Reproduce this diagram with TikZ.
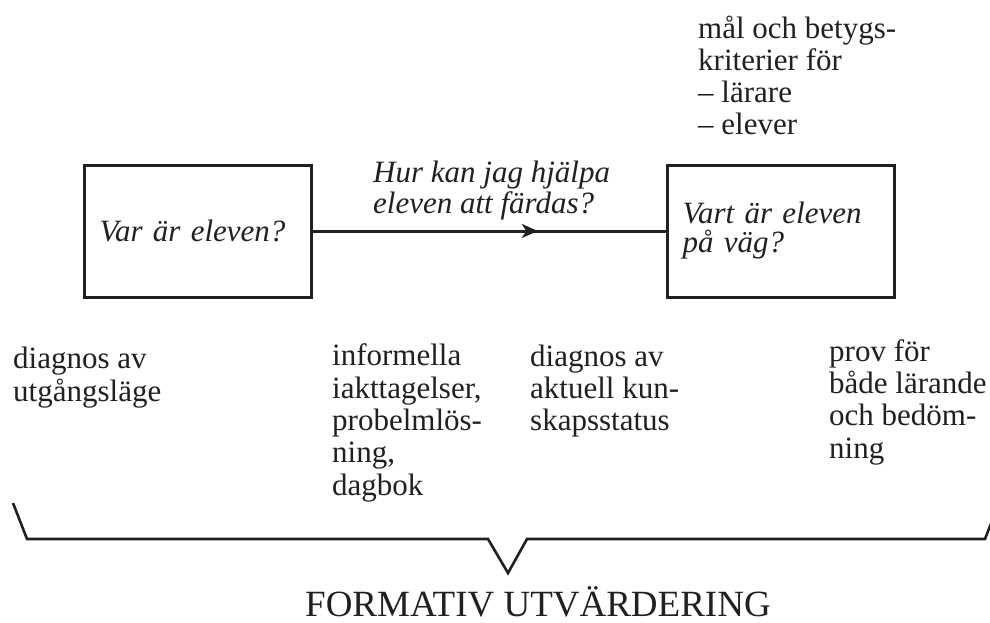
\documentclass[tikz,border=0pt]{standalone}
\usepackage{fontspec}
\setmainfont{Liberation Serif}
\usetikzlibrary{arrows.meta,decorations.markings}
\definecolor{ink}{RGB}{35,31,32}
\begin{document}
\begin{tikzpicture}[x=1pt,y=-1pt,
  every node/.style={text=ink},
  qbox/.style={draw=ink, line width=3pt, minimum width=227pt, minimum height=132pt,
    text width=197pt, inner xsep=15pt, inner ysep=0pt, align=left,
    font=\fontsize{31}{29}\selectfont\itshape},
  lbl/.style={anchor=base west, inner sep=0pt, align=left, font=\fontsize{31}{32.3}\selectfont},
  ilbl/.style={anchor=base west, inner sep=0pt, align=left, font=\fontsize{31}{31}\selectfont\itshape},
  conn/.style={draw=ink, line width=3pt, postaction={decorate},
    decoration={markings, mark=at position 0.637 with {\arrow{Stealth[length=16pt,width=14pt,inset=4.5pt]}}}},
  brace/.style={draw=ink, line width=2.6pt, line join=miter}
]
\useasboundingbox (0,0) rectangle (990,622);
\clip (0,0) rectangle (990,622);

\node[qbox] (L) at (198,231) {Var är eleven?};
\node[qbox] (R) at (781,231) {Vart är eleven\\på väg?};
\draw[conn] (L.east) -- (R.west);

% base anchor of a multi-line node lies on its last line
\node[ilbl] (q) at (373,213) {Hur kan jag hjälpa\\eleven att färdas?};
\node[lbl, font=\fontsize{31}{32}\selectfont] (goal) at (698,134) {mål och betygs-\\kriterier för\\– lärare\\– elever};

\node[lbl] (d1) at (13,401) {diagnos av\\utgångsläge};
\node[lbl] (d2) at (332,495) {informella\\iakttagelser,\\probelmlös-\\ning,\\dagbok};
\node[lbl] (d3) at (530,430.6) {diagnos av\\aktuell kun-\\skapsstatus};
\node[lbl] (d4) at (829,458) {prov för\\både lärande\\och bedöm-\\ning};

\coordinate (b1) at (13,503);
\coordinate (b2) at (27,539);
\coordinate (b3) at (488,539);
\coordinate (b4) at (508,573);
\coordinate (b5) at (527,539);
\coordinate (b6) at (985,539);
\coordinate (b7) at (999,503);
\draw[brace] (b1) -- (b2) -- (b3) -- (b4) -- (b5) -- (b6) -- (b7);

\node[anchor=base, inner sep=0pt, font=\fontsize{37}{40}\selectfont] (title) at (538,616) {FORMATIV UTVÄRDERING};
\end{tikzpicture}
\end{document}
